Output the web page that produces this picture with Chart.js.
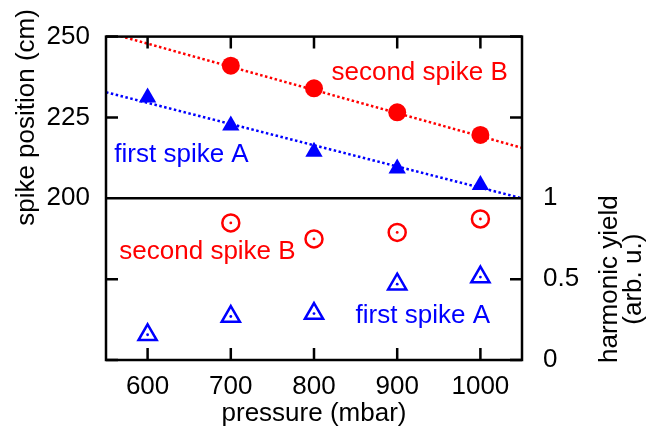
<!DOCTYPE html>
<html>
<head>
<meta charset="utf-8">
<script src="https://cdn.jsdelivr.net/npm/chart.js@4.4.0/dist/chart.umd.min.js"></script>
<style>
  html, body { margin: 0; padding: 0; background: #fff; }
  #wrap { width: 647px; height: 434px; }
</style>
</head>
<body>
<div id="wrap"><canvas id="chart"></canvas></div>
<script>
// measured values
const pressure = [600, 700, 800, 900, 1000];
const posA = [231.2, 222.5, 214.4, 209.2, 204.1];
const posB = [null, 241.0, 234.0, 226.6, 219.6];
const yieldA = [0.156, 0.269, 0.287, 0.469, 0.513];
const yieldB = [null, 0.848, 0.749, 0.789, 0.872];

// linear fits of the positions
const fitRange = [550, 1050];
const fitA = [232.8, 200.0];
const fitB = [251.4, 215.6];

const xTicks = [600, 700, 800, 900, 1000];
const posTicks = [200, 225, 250];
const yieldTicks = [0, 0.5, 1];

const RED = '#ff0000';
const BLUE = '#0000ff';
const FONT = '"Liberation Sans", Arial, Helvetica, sans-serif';
const FS = 26;

function pts(xs, ys) {
    return xs.map((x, i) => ({ x: x, y: ys[i] })).filter(p => p.y !== null);
}

// in-plot labels, placed in data coordinates (left edge, baseline)
const labels = [
    { text: 'second spike B', x: 821, y: 236.5, axis: 'yL', color: RED },
    { text: 'first spike A', x: 560, y: 211.1, axis: 'yL', color: BLUE },
    { text: 'second spike B', x: 566, y: 0.625, axis: 'yR', color: RED },
    { text: 'first spike A', x: 850, y: 0.226, axis: 'yR', color: BLUE }
];

const framePlugin = {
    id: 'frame',
    afterDatasetsDraw(chart) {
        const ctx = chart.ctx;
        // small dot in the middle of the open markers
        chart.data.datasets.forEach((ds, i) => {
            if (!ds.centerDot) return;
            chart.getDatasetMeta(i).data.forEach(el => {
                ctx.beginPath();
                ctx.fillStyle = ds.borderColor;
                ctx.arc(el.x, el.y, 1.4, 0, Math.PI * 2);
                ctx.fill();
            });
        });
    },
    afterDraw(chart) {
        const ctx = chart.ctx;
        const a = chart.chartArea;
        const sx = chart.scales.x, yL = chart.scales.yL, yR = chart.scales.yR;
        const mid = yL.getPixelForValue(200);
        const tick = 12;

        ctx.save();
        ctx.strokeStyle = '#000';
        ctx.lineWidth = 2.5;
        ctx.strokeRect(a.left, a.top, a.right - a.left, a.bottom - a.top);
        ctx.beginPath();
        ctx.moveTo(a.left, mid);
        ctx.lineTo(a.right, mid);
        xTicks.forEach(v => {
            const px = sx.getPixelForValue(v);
            ctx.moveTo(px, a.top); ctx.lineTo(px, a.top + tick);
            ctx.moveTo(px, a.bottom); ctx.lineTo(px, a.bottom - tick);
        });
        posTicks.forEach(v => {
            const py = yL.getPixelForValue(v);
            ctx.moveTo(a.left, py); ctx.lineTo(a.left + tick, py);
            ctx.moveTo(a.right, py); ctx.lineTo(a.right - tick, py);
        });
        yieldTicks.forEach(v => {
            const py = yR.getPixelForValue(v);
            ctx.moveTo(a.left, py); ctx.lineTo(a.left + tick, py);
            ctx.moveTo(a.right, py); ctx.lineTo(a.right - tick, py);
        });
        ctx.stroke();

        // axis titles
        ctx.font = FS + 'px ' + FONT;
        ctx.fillStyle = '#000';
        ctx.textAlign = 'center';
        ctx.textBaseline = 'alphabetic';
        ctx.fillText('pressure (mbar)', (a.left + a.right) / 2, 421);

        const topMid = (a.top + mid) / 2;
        const botMid = (mid + a.bottom) / 2;
        ctx.save();
        ctx.translate(33.5, topMid);
        ctx.rotate(-Math.PI / 2);
        ctx.fillText('spike position (cm)', 0, 0);
        ctx.restore();
        ctx.save();
        ctx.translate(617, botMid);
        ctx.rotate(-Math.PI / 2);
        ctx.fillText('harmonic yield', 0, 0);
        ctx.fillText('(arb. u.)', 0, 24);
        ctx.restore();

        // in-plot labels
        ctx.textAlign = 'left';
        labels.forEach(l => {
            ctx.fillStyle = l.color;
            ctx.fillText(l.text, sx.getPixelForValue(l.x), chart.scales[l.axis].getPixelForValue(l.y));
        });
        ctx.restore();
    }
};

const tickFont = { family: FONT, size: FS };

new Chart(document.getElementById('chart'), {
    type: 'scatter',
    data: {
        datasets: [
            {
                data: pts(fitRange, fitB), yAxisID: 'yL', showLine: true,
                borderColor: RED, borderWidth: 2.5, borderDash: [2.5, 2.5], pointRadius: 0
            },
            {
                data: pts(fitRange, fitA), yAxisID: 'yL', showLine: true,
                borderColor: BLUE, borderWidth: 2.5, borderDash: [2.5, 2.5], pointRadius: 0
            },
            {
                data: pts(pressure, posB), yAxisID: 'yL',
                pointStyle: 'circle', pointRadius: 9,
                backgroundColor: RED, borderColor: RED, borderWidth: 0
            },
            {
                data: pts(pressure, posA), yAxisID: 'yL',
                pointStyle: 'triangle', pointRadius: 10,
                backgroundColor: BLUE, borderColor: BLUE, borderWidth: 0
            },
            {
                data: pts(pressure, yieldB), yAxisID: 'yR', centerDot: true,
                pointStyle: 'circle', pointRadius: 8.5,
                backgroundColor: 'rgba(0,0,0,0)', borderColor: RED, borderWidth: 2.5
            },
            {
                data: pts(pressure, yieldA), yAxisID: 'yR', centerDot: true,
                pointStyle: 'triangle', pointRadius: 10.5,
                backgroundColor: 'rgba(0,0,0,0)', borderColor: BLUE, borderWidth: 2.5
            }
        ]
    },
    options: {
        responsive: true,
        maintainAspectRatio: false,
        animation: false,
        layout: { padding: { top: 27, left: 0, right: 0, bottom: 0 } },
        plugins: { legend: { display: false }, tooltip: { enabled: false } },
        scales: {
            x: {
                type: 'linear', min: 550, max: 1050,
                afterBuildTicks: s => { s.ticks = xTicks.map(v => ({ value: v })); },
                afterFit: s => { s.height = 74; },
                grid: { display: false, drawTicks: false },
                border: { display: false },
                ticks: { font: tickFont, color: '#000', padding: 11, maxRotation: 0, callback: v => String(v) }
            },
            yL: {
                type: 'linear', position: 'left', min: 150, max: 250,
                afterBuildTicks: s => { s.ticks = posTicks.map(v => ({ value: v })); },
                afterFit: s => { s.width = 106; },
                grid: { display: false, drawTicks: false },
                border: { display: false },
                ticks: { font: tickFont, color: '#000', padding: 16, callback: v => String(v) }
            },
            yR: {
                type: 'linear', position: 'right', min: 0, max: 2,
                afterBuildTicks: s => { s.ticks = yieldTicks.map(v => ({ value: v })); },
                afterFit: s => { s.width = 125; },
                grid: { display: false, drawTicks: false },
                border: { display: false },
                ticks: { font: tickFont, color: '#000', padding: 21, callback: v => String(v) }
            }
        }
    },
    plugins: [framePlugin]
});
</script>
</body>
</html>
